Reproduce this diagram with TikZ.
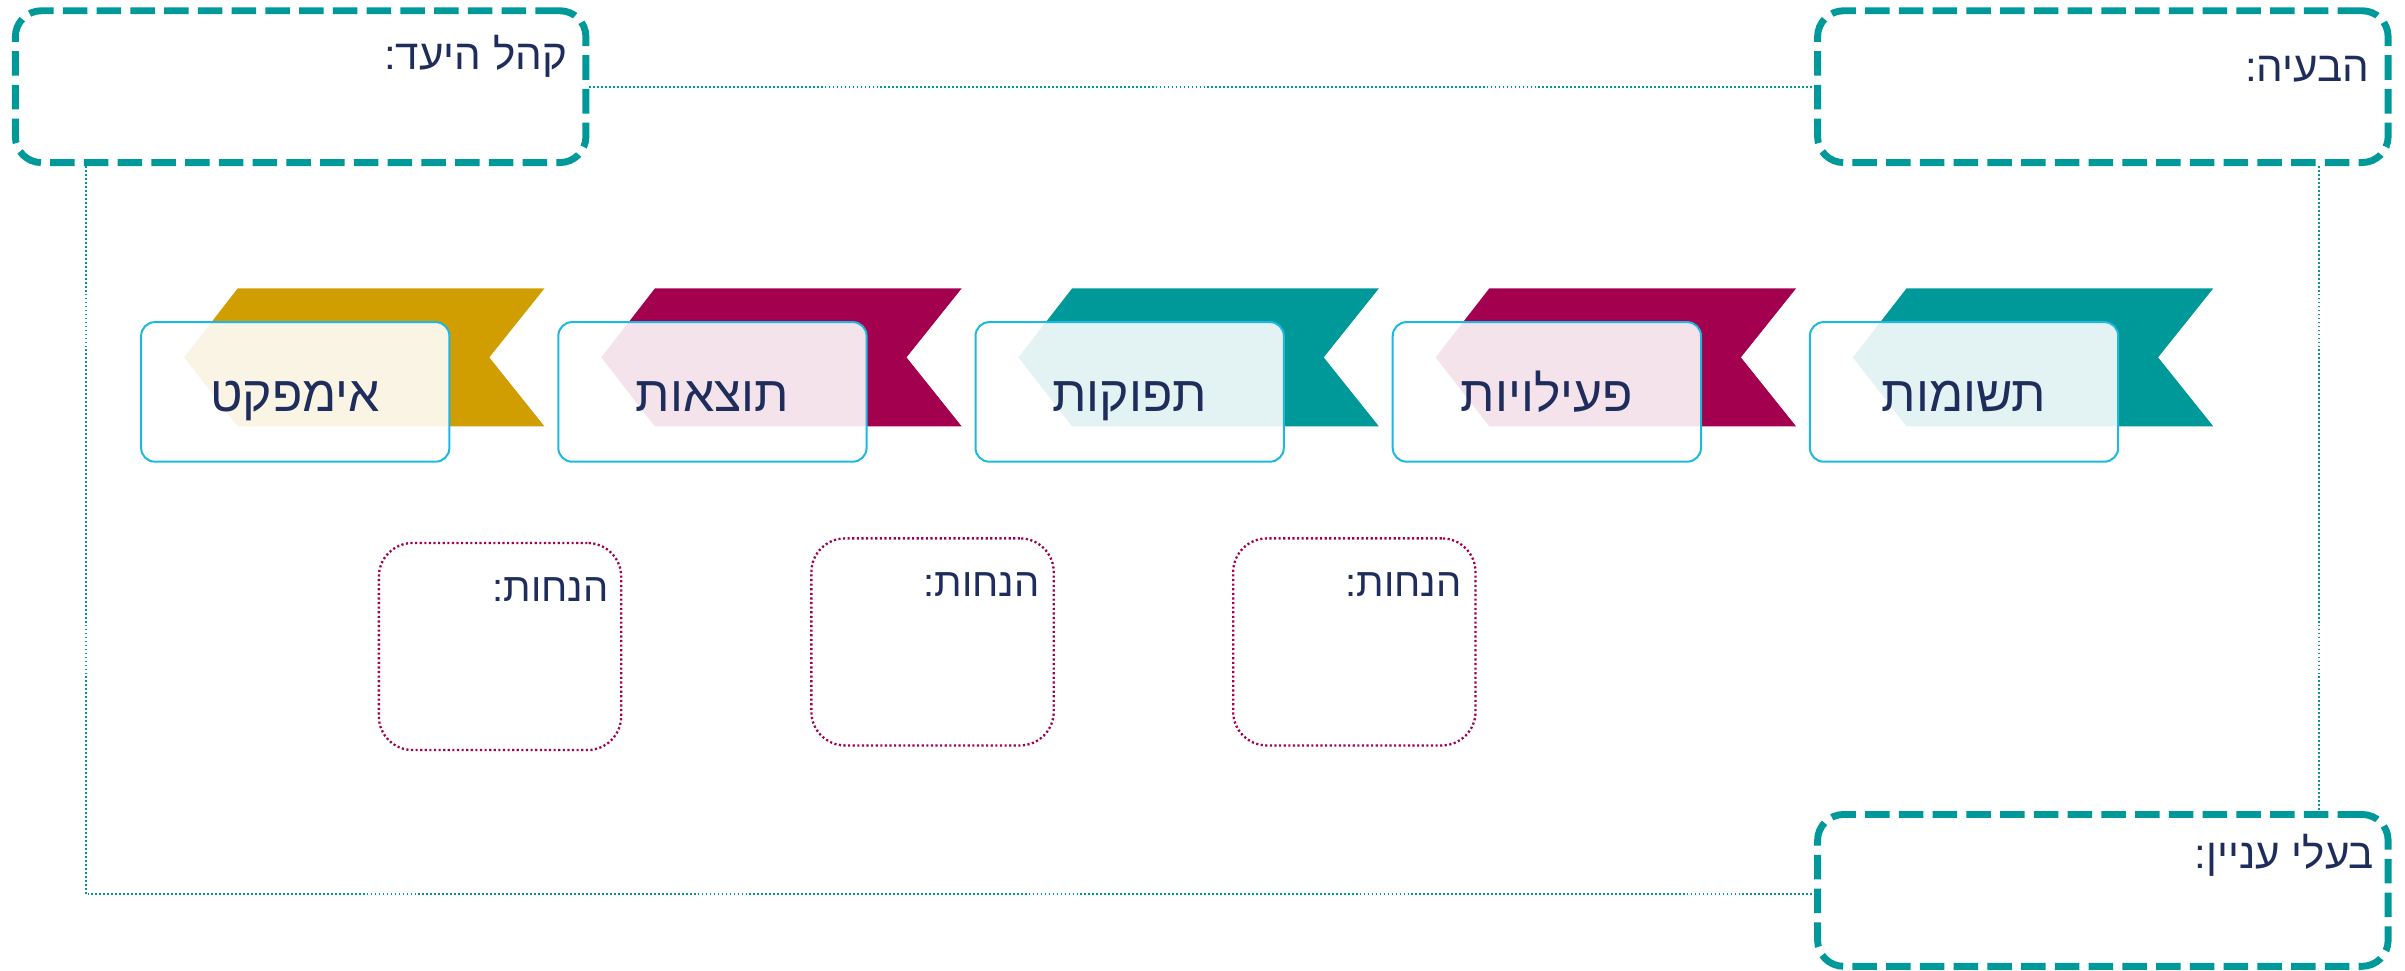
\documentclass[tikz,border=0pt]{standalone}
\usepackage{fontspec}
\setmainfont{Liberation Sans}
\newfontfamily\hebfont[Script=Hebrew]{Liberation Sans}
\TeXXeTstate=1
\definecolor{tealc}{HTML}{009999}
\definecolor{magc}{HTML}{A3004F}
\definecolor{goldc}{HTML}{D09E00}
\definecolor{cyanc}{HTML}{1DB8E2}
\definecolor{navyc}{HTML}{1F2D5C}
\newcommand{\heb}[1]{\hebfont\beginR #1\endR}
\begin{document}
\begin{tikzpicture}[x=1pt,y=-1pt,
  bigbox/.style={draw=tealc, line width=4.5pt, dash pattern=on 16pt off 6pt, rounded corners=17pt, minimum width=372pt, minimum height=99pt, inner sep=0pt},
  conn/.style={draw=tealc, line width=1.2pt, dash pattern=on 1.2pt off 1.4pt},
  stagebox/.style={draw=cyanc, line width=1.3pt, fill=white, fill opacity=0.89, rounded corners=9pt, minimum width=201pt, minimum height=91pt, inner sep=0pt},
  stagelabel/.style={anchor=base, text=navyc, inner sep=0pt, font=\fontsize{32.5}{36}\selectfont},
  assbox/.style={draw=magc, line width=1.5pt, dash pattern=on 1.4pt off 1.6pt, rounded corners=22pt, minimum width=158pt, minimum height=135pt, inner sep=0pt},
  biglabel/.style={anchor=base east, text=navyc, inner sep=0pt, font=\fontsize{27.5}{31}\selectfont},
  asslabel/.style={anchor=base east, text=navyc, inner sep=0pt, font=\fontsize{26}{30}\selectfont}]
\useasboundingbox (0,0) rectangle (1568,633);

% outer dashed boxes
\node[bigbox] (aud) at (196,56.5) {};
\node[bigbox] (prob) at (1371,56.5) {};
\node[bigbox] (stake) at (1371,580.5) {};
\node[biglabel] (audl) at (370,45) {\heb{קהל היעד:}};
\node[biglabel] (probl) at (1545,53) {\heb{הבעיה:}};
\node[biglabel] (stakel) at (1548,566) {\heb{בעלי עניין:}};

% connectors
\coordinate (cl) at (56,583);
\coordinate (cr) at (1512,0);
\draw[conn] (aud.east) -- (prob.west);
\draw[conn] (aud.south -| cl) -- (cl) -- (cl -| stake.west);
\draw[conn] (prob.south -| cr) -- (stake.north -| cr);

% ribbons
\foreach \x/\c in {0/goldc, 272/magc, 544/tealc, 816/magc, 1088/tealc}{
  \fill[\c] (155+\x,188) -- (355+\x,188) -- (319+\x,233) -- (355+\x,278) -- (155+\x,278) -- (120+\x,233) -- cycle;
}

% stage boxes
\node[stagebox] (s1) at (192.5,255.5) {};
\node[stagebox] (s2) at (464.5,255.5) {};
\node[stagebox] (s3) at (736.5,255.5) {};
\node[stagebox] (s4) at (1008.5,255.5) {};
\node[stagebox] (s5) at (1280.5,255.5) {};
\node[stagelabel] (s1l) at (192.5,268) {\heb{אימפקט}};
\node[stagelabel] (s2l) at (464.5,268) {\heb{תוצאות}};
\node[stagelabel] (s3l) at (736.5,268) {\heb{תפוקות}};
\node[stagelabel] (s4l) at (1008.5,268) {\heb{פעילויות}};
\node[stagelabel] (s5l) at (1280.5,268) {\heb{תשומות}};

% assumption boxes
\node[assbox] (a1) at (326,421.5) {};
\node[assbox] (a2) at (608,418.5) {};
\node[assbox] (a3) at (883,418.5) {};
\node[asslabel] (a1l) at (397,392) {\heb{הנחות:}};
\node[asslabel] (a2l) at (678,389) {\heb{הנחות:}};
\node[asslabel] (a3l) at (953,389) {\heb{הנחות:}};
\end{tikzpicture}
\end{document}
